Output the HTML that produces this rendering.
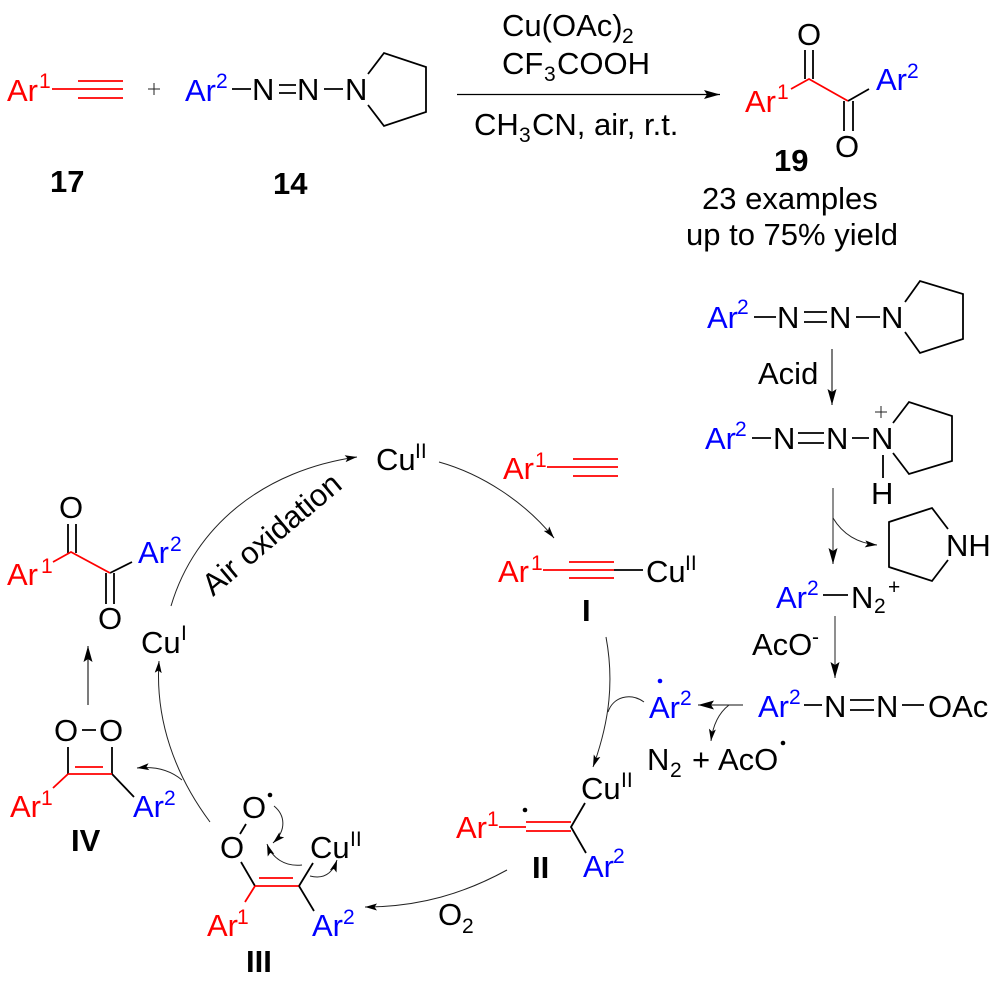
<!DOCTYPE html>
<html><head><meta charset="utf-8"><style>
html,body{margin:0;padding:0;background:#fff}
svg{display:block}
text{font-family:"Liberation Sans",sans-serif;font-size:31px;fill:#000}
.s{font-size:21px}
.h{font-weight:bold}
.r{fill:#f00}.b{fill:#00f}
.bk{stroke:#000;stroke-width:1.8;fill:none}
.rd{stroke:#f00;stroke-width:1.8;fill:none}
.ar{stroke:#111;stroke-width:1.1;fill:none}
.cv{stroke:#222;stroke-width:1;fill:none}
</style></head><body>
<svg width="1000" height="991" viewBox="0 0 1000 991" xmlns="http://www.w3.org/2000/svg">
<defs>
<marker id="m" markerUnits="userSpaceOnUse" viewBox="0 0 16 10" refX="16" refY="5" markerWidth="16" markerHeight="10" orient="auto"><path d="M0,0.5L16,5L0,9.5L3,5z" fill="#000"/></marker>
<marker id="n" markerUnits="userSpaceOnUse" viewBox="0 0 12 8" refX="12" refY="4" markerWidth="12" markerHeight="8" orient="auto"><path d="M0,.5L12,4L0,7.5L2.5,4z" fill="#000"/></marker>
</defs>

<!-- top equation -->
<text x="7" y="101" class="r">Ar</text><text x="39" y="88" class="s r">1</text>
<path class="rd" d="M52,89H123M78,81H123M78,98H123"/>
<path d="M148,89H160M154,83V95" stroke="#222" stroke-width="1" fill="none"/>
<text x="185" y="101" class="b">Ar</text><text x="216" y="88" class="s b">2</text>
<path class="bk" d="M232,89H251M279,85H296M279,93H296M324,89H343"/>
<text x="252" y="100">N</text><text x="297" y="100">N</text><text x="345" y="100">N</text>
<path class="bk" d="M368,74L384,53L426,67V112L384,126L368,105"/>
<text x="50" y="192" class="h">17</text>
<text x="273" y="194" class="h">14</text>

<text x="502" y="36">Cu(OAc)</text><text x="622" y="43" class="s">2</text>
<text x="502" y="74">CF</text><text x="544" y="81" class="s">3</text><text x="557" y="74">COOH</text>
<text x="474" y="135">CH</text><text x="519" y="142" class="s">3</text><text x="532" y="135">CN, air, r.t.</text>
<path class="bk" d="M457,94.500H720" style="stroke-width:1.200" marker-end="url(#m)"/>

<!-- product 19 -->
<text x="797" y="45">O</text>
<path class="bk" d="M805,50V79M813,50V79"/>
<text x="745" y="112" class="r">Ar</text><text x="777" y="99" class="s r">1</text>
<path class="rd" d="M791,89L809,79L848,101"/>
<path class="bk" d="M848,101L869,89M844,101V131M853,101V131"/>
<text x="876" y="90" class="b">Ar</text><text x="907" y="78" class="s b">2</text>
<text x="835" y="157">O</text>
<text x="774" y="171" class="h">19</text>
<text x="702" y="209">23 examples</text>
<text x="686" y="245">up to 75% yield</text>

<!-- right mechanism -->
<text x="707" y="328" class="b">Ar</text><text x="737" y="314" class="s b">2</text>
<path class="bk" d="M754,317H776M804,312H827M804,322H827M856,317H880"/>
<text x="777" y="328">N</text><text x="829" y="328">N</text><text x="881" y="328">N</text>
<path class="bk" d="M905,302L920,281L963,294V339L920,353L905,332"/>
<path class="ar" d="M832,349V405" marker-end="url(#m)"/>
<text x="758" y="384">Acid</text>

<text x="705" y="449" class="b">Ar</text><text x="735" y="436" class="s b">2</text>
<path class="bk" d="M752,438H771M798,433H824M798,443H824M852,438H869"/>
<text x="773" y="449">N</text><text x="826" y="449">N</text><text x="871" y="449">N</text>
<path d="M875,412H887M881,406V418" stroke="#222" stroke-width="1" fill="none"/>
<path class="bk" d="M893,423L909,402L952,416V461L909,474L893,453M883,455V478"/>
<text x="871" y="504">H</text>
<path d="M833,488V564" stroke="#444" stroke-width="1.200" fill="none" marker-end="url(#m)"/>
<path class="cv" d="M833,518C842,533 856,543 877,545" marker-end="url(#n)"/>
<path class="bk" d="M948,529L932,508L889,522V567L932,581L948,560"/>
<text x="946" y="556">NH</text>

<text x="776" y="608" class="b">Ar</text><text x="807" y="595" class="s b">2</text>
<path class="bk" d="M823,595H848"/>
<text x="851" y="608">N</text><text x="874" y="613" class="s">2</text><text x="888" y="594" class="s">+</text>
<text x="752" y="655">AcO</text><text x="812" y="644" class="s">-</text>
<path d="M835,616V678" stroke="#444" stroke-width="1.200" fill="none" marker-end="url(#m)"/>

<text x="758" y="717" class="b">Ar</text><text x="789" y="704" class="s b">2</text>
<path class="bk" d="M804,705H822M850,700H874M850,710H874M902,705H924"/>
<text x="824" y="717">N</text><text x="876" y="717">N</text><text x="928" y="717">OAc</text>

<path class="ar" d="M743,705H698" marker-end="url(#m)"/>
<path class="cv" d="M729,705C720,712 713,724 711,741" marker-end="url(#n)"/>
<text x="649" y="718" class="b">Ar</text><text x="680" y="705" class="s b">2</text>
<circle cx="660" cy="681" r="2.300" fill="#00f"/>
<text x="647" y="770">N</text><text x="670" y="777" class="s">2</text><text x="692" y="770">+</text><text x="718" y="770">AcO</text>
<circle cx="783" cy="743" r="2.300" fill="#000"/>

<!-- cycle -->
<path class="cv" d="M606,637C614,680 610,720 593,767" marker-end="url(#n)"/>
<path class="cv" d="M644,702C630,692 613,697 608,712"/>

<text x="581" y="799">Cu</text><text x="621" y="787" class="s">II</text>
<path class="bk" d="M585,803L571,827L586,853"/>
<text x="583" y="877" class="b">Ar</text><text x="613" y="863" class="s b">2</text>
<text x="456" y="838" class="r">Ar</text><text x="487" y="826" class="s r">1</text>
<path class="rd" d="M499,827H526M526,822H571M526,831H571"/>
<circle cx="525" cy="810" r="2.300" fill="#000"/>
<text x="532" y="878" class="h">II</text>
<text x="582" y="621" class="h">I</text>

<path class="cv" d="M507,870C465,893 420,907 365,907" marker-end="url(#n)"/>
<text x="438" y="925">O</text><text x="462" y="933" class="s">2</text>

<!-- III -->
<text x="242" y="818">O</text>
<text x="220" y="858">O</text>
<path class="bk" d="M246,824L240,834M241,862L255,886"/>
<path class="rd" d="M255,886H299M259,878H293M255,886L245,902"/>
<path class="bk" d="M299,886L314,911M299,886L313,863"/>
<circle cx="270" cy="795" r="2.300" fill="#000"/>
<text x="310" y="858">Cu</text><text x="350" y="846" class="s">II</text>
<text x="207" y="936" class="r">Ar</text><text x="237" y="924" class="s r">1</text>
<text x="312" y="936" class="b">Ar</text><text x="343" y="924" class="s b">2</text>
<text x="246" y="972" class="h">III</text>
<path class="cv" d="M274,806C285,815 287,830 273,843" marker-end="url(#n)"/>
<path class="cv" d="M302,865C285,867 272,858 267,844" marker-end="url(#n)"/>
<path class="cv" d="M310,876C322,879 332,875 337,860" marker-end="url(#n)"/>

<!-- IV -->
<text x="54" y="741">O</text><text x="99" y="741">O</text>
<path class="bk" d="M82,730H96M68,747V774M112,747V774M112,774L134,797"/>
<path class="rd" d="M68,774H112M75,767H103M68,774L53,788"/>
<text x="10" y="817" class="r">Ar</text><text x="41" y="805" class="s r">1</text>
<text x="133" y="817" class="b">Ar</text><text x="164" y="805" class="s b">2</text>
<text x="71" y="851" class="h">IV</text>

<path class="ar" d="M88,705V646" marker-end="url(#m)"/>
<path class="cv" d="M210,822C175,775 155,720 159,661" marker-end="url(#n)"/>
<path class="cv" d="M182,780C170,770 155,766 137,768" marker-end="url(#n)"/>

<text x="141" y="653">Cu</text><text x="181" y="640" class="s">I</text>

<!-- diketone left -->
<text x="59" y="518">O</text>
<path class="bk" d="M68,524V553M76,524V553M110,573L132,562M106,573V604M114,573V604"/>
<path class="rd" d="M53,562L71,552L110,573"/>
<text x="7" y="585" class="r">Ar</text><text x="41" y="573" class="s r">1</text>
<text x="138" y="563" class="b">Ar</text><text x="170" y="551" class="s b">2</text>
<text x="98" y="629">O</text>

<path class="cv" d="M171,606C195,525 265,470 357,457" marker-end="url(#n)"/>
<text x="0" y="0" transform="translate(213,597) rotate(-40)">Air oxidation</text>

<text x="376" y="470">Cu</text><text x="415" y="458" class="s">II</text>
<path class="cv" d="M439,462C482,474 525,502 554,538" marker-end="url(#n)"/>
<text x="503" y="479" class="r">Ar</text><text x="535" y="467" class="s r">1</text>
<path class="rd" d="M547,467H618M573,459H618M573,476H618"/>
<text x="498" y="582" class="r">Ar</text><text x="531" y="570" class="s r">1</text>
<path class="rd" d="M543,570H614M569,562H614M569,578H614"/>
<path class="bk" d="M614,570H643"/>
<text x="646" y="582">Cu</text><text x="685" y="570" class="s">II</text>
</svg>
</body></html>
